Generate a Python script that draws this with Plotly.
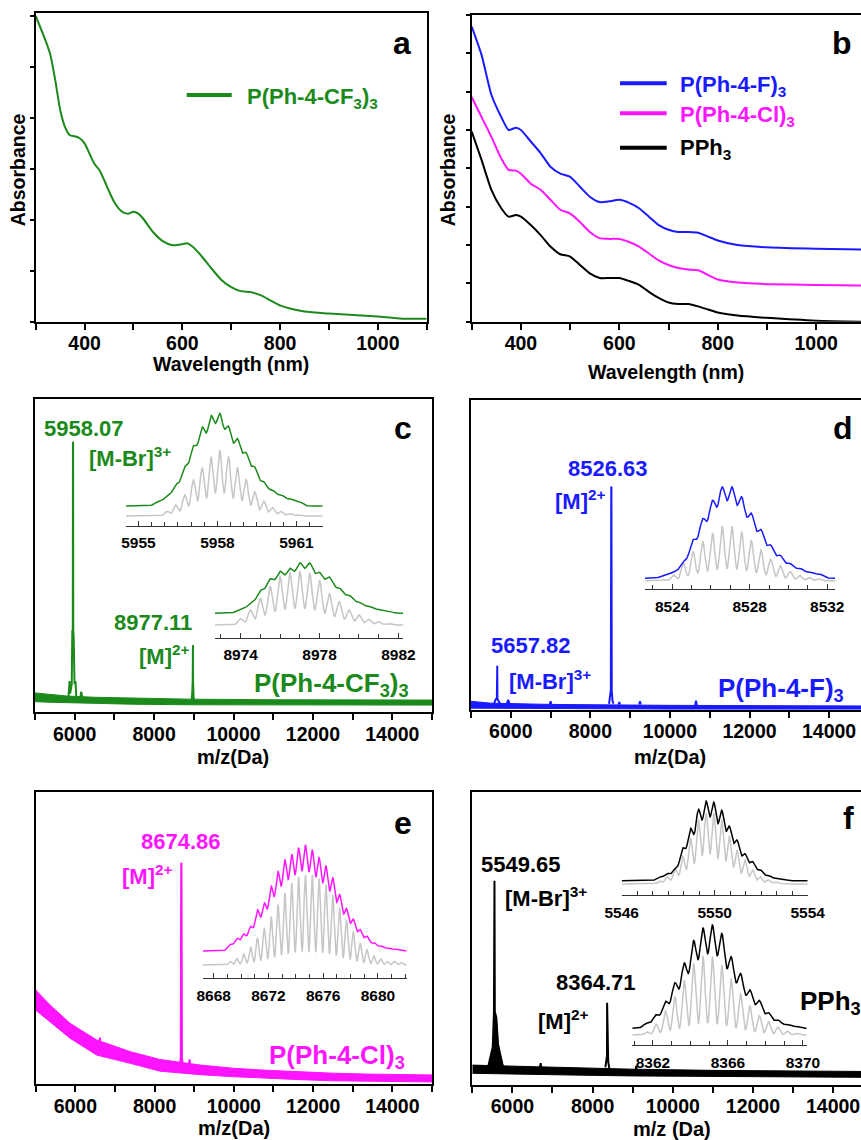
import numpy as np
import plotly.graph_objects as go

W, H = 861, 1140
FONT = "Liberation Sans, Arial, sans-serif"
GREEN = "#1b8a1b"
BLUE = "#1a1aff"
MAGENTA = "#ff14ff"
BLACK = "#000000"
GRAY = "#c6c6c6"

# ---------------- (a) UV-vis, P(Ph-4-CF3)3 ----------------
wl_a = [300, 320, 330, 340, 350, 360, 370, 380, 390, 400, 410, 420, 430, 440, 450, 460, 470, 480,
        490, 500, 510, 520, 540, 560, 580, 600, 610, 620, 640, 660, 680, 700, 720, 740, 760, 780,
        800, 820, 850, 900, 950, 1000, 1050, 1100]
abs_cf3 = [3.0, 2.76, 2.62, 2.37, 2.08, 1.91, 1.83, 1.82, 1.80, 1.75, 1.65, 1.55, 1.49, 1.39, 1.28,
           1.18, 1.11, 1.07, 1.06, 1.08, 1.06, 1.01, 0.88, 0.79, 0.75, 0.76, 0.77, 0.74, 0.64, 0.52,
           0.41, 0.34, 0.30, 0.29, 0.26, 0.21, 0.16, 0.13, 0.10, 0.08, 0.065, 0.05, 0.03, 0.03]

# ---------------- (b) UV-vis, three ligands ----------------
wl_b = [300, 320, 340, 360, 375, 390, 400, 420, 440, 460, 480, 500, 520, 540, 560, 580, 600, 620,
        640, 660, 680, 700, 720, 740, 760, 780, 800, 840, 900, 1000, 1100]
abs_f = [3.85, 3.48, 2.96, 2.67, 2.50, 2.53, 2.50, 2.35, 2.20, 2.02, 1.93, 1.89, 1.76, 1.63, 1.56,
         1.57, 1.59, 1.55, 1.48, 1.37, 1.26, 1.20, 1.17, 1.17, 1.16, 1.11, 1.06, 1.00, 0.97, 0.95, 0.94]
abs_cl = [2.93, 2.67, 2.41, 2.13, 1.98, 1.97, 1.93, 1.80, 1.72, 1.59, 1.46, 1.41, 1.30, 1.17, 1.09,
          1.08, 1.08, 1.04, 0.98, 0.89, 0.80, 0.74, 0.70, 0.68, 0.67, 0.61, 0.55, 0.51, 0.49, 0.48, 0.47]
abs_pph3 = [2.48, 2.11, 1.72, 1.48, 1.37, 1.39, 1.37, 1.26, 1.13, 0.98, 0.88, 0.85, 0.74, 0.63, 0.57,
            0.57, 0.57, 0.53, 0.48, 0.39, 0.31, 0.25, 0.23, 0.23, 0.20, 0.16, 0.12, 0.08, 0.05, 0.013, 0.0]

# ---------------- (c)-(f) ESI-MS, normalised intensity ----------------
c_band_mz = [5000, 5400, 5800, 6500, 7400, 8900, 11000, 15000]
c_band_hi = [0.062, 0.056, 0.052, 0.048, 0.045, 0.042, 0.040, 0.039]
c_band_lo = [0.034, 0.032, 0.031, 0.028, 0.026, 0.024, 0.023, 0.023]
c_peak_mz = [5840, 5855, 5870, 5885, 5900, 5925, 5940, 5952, 5956, 5960, 5964, 5975, 5995, 6020, 6040, 6060, None,
             6140, 6160, 6175, 6195, None,
             8940, 8960, 8972, 8975, 8979, 8982, 8995, 9010]
c_peak_int = [0.04, 0.10, 0.10, 0.06, 0.07, 0.09, 0.26, 0.26, 0.861, 0.861, 0.26, 0.24, 0.09, 0.10, 0.05, 0.04, None,
              0.04, 0.065, 0.06, 0.04, None,
              0.035, 0.06, 0.10, 0.215, 0.215, 0.10, 0.05, 0.035]

d_band_mz = [5000, 5500, 7000, 10000, 15000]
d_band_hi = [0.028, 0.022, 0.018, 0.015, 0.013]
d_band_lo = [0.006, 0.005, 0.004, 0.003, 0.003]
d_peak_mz = [5580, 5620, 5650, 5656, 5660, 5665, 5690, 5730, None, 5900, 5935, 5970, None,
             6980, 7000, 7020, None, 8470, 8500, 8515, 8525, 8529, 8538, 8555, 8580, None,
             8710, 8727, 8745, None, 9230, 9247, 9265, None, 10635, 10655, 10675]
d_peak_int = [0.02, 0.035, 0.035, 0.143, 0.143, 0.035, 0.03, 0.02, None, 0.02, 0.033, 0.02, None,
              0.018, 0.028, 0.018, None, 0.02, 0.065, 0.065, 0.718, 0.718, 0.065, 0.03, 0.02, None,
              0.018, 0.026, 0.018, None, 0.018, 0.028, 0.018, None, 0.015, 0.03, 0.015]

e_band_mz = [5000, 5360, 5865, 6540, 7380, 8135, 9150, 9990, 10830, 11670, 12510, 13350, 15000]
e_band_hi = [0.323, 0.272, 0.209, 0.152, 0.112, 0.085, 0.066, 0.055, 0.048, 0.042, 0.038, 0.035, 0.032]
e_band_lo = [0.254, 0.214, 0.158, 0.100, 0.072, 0.045, 0.033, 0.026, 0.020, 0.016, 0.012, 0.010, 0.008]
e_peak_mz = [6600, 6620, 6640, None, 8630, 8660, 8672, 8678, 8690, 8720, None, 8860, 8882, 8905]
e_peak_int = [0.13, 0.16, 0.13, None, 0.06, 0.09, 0.755, 0.755, 0.09, 0.06, None, 0.06, 0.085, 0.06]

f_band_mz = [5000, 6000, 7500, 9000, 11000, 13000, 15000]
f_band_hi = [0.068, 0.064, 0.058, 0.054, 0.050, 0.047, 0.046]
f_band_lo = [0.040, 0.037, 0.034, 0.031, 0.029, 0.027, 0.026]
# broad unresolved hump under the [M-Br]3+ peak
f_hump_mz = [5420, 5460, 5500, 5530, 5560, 5600, 5640, 5680, 5720, 5770]
f_hump_hi = [0.065, 0.095, 0.115, 0.14, 0.24, 0.23, 0.15, 0.11, 0.09, 0.065]
f_hump_lo = [0.045, 0.045, 0.045, 0.045, 0.045, 0.045, 0.045, 0.045, 0.045, 0.045]
f_peak_mz = [5400, 5440, 5480, 5510, 5540, 5546, 5553, 5562, 5600, 5640, 5680, 5720, 5760, None,
             6690, 6705, 6720, None, 8320, 8345, 8360, 8363, 8366, 8372, 8390, 8420, None, 9070, 9087, 9105]
f_peak_int = [0.065, 0.09, 0.11, 0.13, 0.25, 0.698, 0.698, 0.25, 0.23, 0.14, 0.11, 0.09, 0.065, None,
              0.06, 0.075, 0.06, None, 0.06, 0.08, 0.10, 0.281, 0.281, 0.10, 0.08, 0.055, None, 0.05, 0.065, 0.05]

# ---------------- isotope patterns (insets): peak m/z, simulated and measured heights ----------------
c1_mz = [5955.76, 5956.09, 5956.42, 5956.76, 5957.09, 5957.42, 5957.76, 5958.09, 5958.42, 5958.76,
         5959.09, 5959.42, 5959.76, 5960.09, 5960.42, 5960.76, 5961.09]
c1_sim = [0, 7, 17, 32, 55, 74, 90, 100, 91, 74, 56, 37, 23, 13, 7, 4, 2]
c1_exp = [5, 10, 23, 42, 64, 86, 98, 100, 86, 73, 57, 42, 26, 17, 12, 8, 5]

c2_mz = [8974.0, 8974.5, 8975.0, 8975.5, 8976.0, 8976.5, 8977.0, 8977.5, 8978.0, 8978.5, 8979.0,
         8979.5, 8980.0, 8980.5, 8981.0, 8981.5]
c2_sim = [12, 28, 50, 72, 91, 98, 100, 97, 84, 59, 44, 28, 19, 11, 6, 3]
c2_exp = [8, 18, 45, 68, 83, 88, 100, 100, 80, 72, 50, 36, 22, 14, 8, 4]

d1_mz = [8523.58, 8524.08, 8524.58, 8525.08, 8525.58, 8526.08, 8526.58, 8527.08, 8527.58, 8528.08,
         8528.58, 8529.08, 8529.58, 8530.08, 8530.58, 8531.08, 8531.58]
d1_sim = [2, 10, 32, 54, 72, 88, 100, 100, 91, 74, 57, 40, 28, 17, 10, 6, 3]
d1_exp = [3, 7, 18, 42, 65, 85, 100, 100, 89, 71, 53, 36, 25, 16, 11, 7, 5]

e1_mz = [8669.2, 8669.7, 8670.2, 8670.7, 8671.2, 8671.7, 8672.2, 8672.7, 8673.2, 8673.7, 8674.2,
         8674.7, 8675.2, 8675.7, 8676.2, 8676.7, 8677.2, 8677.7, 8678.2, 8678.7, 8679.2, 8679.7,
         8680.2, 8680.7, 8681.2, 8681.7]
e1_sim = [4, 7, 12, 20, 30, 41, 54, 67, 80, 91, 98, 100, 100, 96, 89, 78, 63, 50, 37, 24, 17, 10, 7, 4, 4, 3]
e1_exp = [6, 12, 16, 23, 39, 45, 61, 75, 86, 91, 97, 100, 95, 88, 80, 69, 53, 40, 30, 20, 14, 8, 5, 3, 2, 1]

f1_mz = [5547.63, 5547.96, 5548.30, 5548.63, 5548.96, 5549.30, 5549.63, 5549.96, 5550.30, 5550.63,
         5550.96, 5551.30, 5551.63, 5551.96, 5552.30, 5552.63, 5552.96]
f1_sim = [4, 10, 22, 39, 65, 91, 100, 100, 91, 67, 48, 34, 20, 10, 6, 3, 1]
f1_exp = [5, 9, 15, 41, 66, 90, 100, 99, 89, 68, 51, 34, 24, 14, 7, 3, 2]

f2_mz = [8361.67, 8362.17, 8362.67, 8363.17, 8363.67, 8364.17, 8364.67, 8365.17, 8365.67, 8366.17,
         8366.67, 8367.17, 8367.67, 8368.17, 8368.67, 8369.17, 8369.67]
f2_sim = [4, 14, 31, 49, 70, 91, 100, 100, 89, 72, 53, 37, 25, 17, 10, 5, 2]
f2_exp = [5, 13, 26, 44, 63, 85, 97, 100, 92, 69, 53, 37, 27, 15, 8, 4, 2]


# ---------------- helpers ----------------
def xd(p0, p1):
    return [max(p0 / W, 0), min(p1 / W, 1)]


def yd(ptop, pbot):
    return [1 - pbot / H, 1 - ptop / H]


def sfx(n):
    return "" if n == 1 else str(n)


fig = go.Figure()


def add(tr, n):
    tr.update(xaxis="x" + sfx(n), yaxis="y" + sfx(n), showlegend=False, hoverinfo="skip")
    fig.add_trace(tr)


def tickfont(size):
    return dict(family=FONT, size=size, color="black", weight="bold")


axes = {}


def main_axes(n, xpx, ypx, xr, yr, tick0, dtick, mtick0, mdtick, ytickvals=None, ymirror=True):
    s = sfx(n)
    axes["xaxis" + s] = dict(domain=xd(*xpx), range=xr, anchor="y" + s, showline=True, linewidth=2,
                             linecolor="black", mirror=True, ticks="outside", ticklen=6, tickwidth=1.8,
                             tickcolor="black", tickmode="linear", tick0=tick0, dtick=dtick,
                             tickformat="d", automargin=False, ticklabelstandoff=-3,
                             tickfont=tickfont(19.5), showgrid=False, zeroline=False,
                             minor=dict(tickmode="linear", tick0=mtick0, dtick=mdtick, ticks="outside",
                                        ticklen=6, tickwidth=1.8, tickcolor="black", showgrid=False))
    ya = dict(domain=yd(*ypx), range=yr, anchor="x" + s, showline=True, linewidth=2, linecolor="black",
              mirror=ymirror, showticklabels=False, showgrid=False, zeroline=False, automargin=False)
    if ytickvals is not None:
        ya.update(tickmode="array", tickvals=ytickvals, ticks="outside", ticklen=4, tickwidth=1.5,
                  tickcolor="black")
    else:
        ya.update(ticks="")
    axes["yaxis" + s] = ya


def inset_axes(n, xpx, ybot, ytop, xr, tick0, dtick, mdtick):
    s = sfx(n)
    axes["xaxis" + s] = dict(domain=xd(*xpx), range=xr, anchor="y" + s, showline=True, linewidth=1.2,
                             linecolor="#333333", ticks="inside", ticklen=5, tickwidth=1.2,
                             tickcolor="#333333", tickmode="linear", tick0=tick0, dtick=dtick,
                             tickformat="d", automargin=False,
                             tickfont=tickfont(15.5), showgrid=False, zeroline=False,
                             ticklabelstandoff=3,
                             minor=dict(tickmode="linear", tick0=tick0, dtick=mdtick, ticks="inside",
                                        ticklen=4, tickwidth=1.2, tickcolor="#333333", showgrid=False))
    axes["yaxis" + s] = dict(domain=yd(ytop, ybot), range=[0, 1], anchor="x" + s, visible=False,
                             automargin=False)


def profile(xr, centers, heights, sigma):
    # isotope pattern drawn as the sum of broadened peaks of the read heights
    xg = np.linspace(xr[0], xr[1], 1600)
    c = np.asarray(centers)[None, :]
    h = np.asarray(heights, dtype=float)[None, :]
    y = (h * np.exp(-0.5 * ((xg[:, None] - c) / sigma) ** 2)).sum(axis=1)
    return xg, y / y.max()


def add_inset(n, xr, ybot, ytop, mz, sim, exp, spacing, sim_px, exp_px, sim_sig, exp_sig, color):
    hgt = ybot - ytop
    for heights, (base, peak), sig, col, wdt in ((sim, sim_px, sim_sig, GRAY, 1.5),
                                                 (exp, exp_px, exp_sig, color, 1.5)):
        xg, prof = profile(xr, mz, heights, sig * spacing)
        yv = (ybot - base) / hgt + prof * (base - peak) / hgt
        add(go.Scatter(x=xg, y=yv, mode="lines", line=dict(color=col, width=wdt)), n)


def add_band(n, band_mz, hi, lo, color):
    add(go.Scatter(x=list(band_mz) + list(band_mz)[::-1], y=list(hi) + list(lo)[::-1], mode="lines",
                   fill="toself", fillcolor=color, line=dict(color=color, width=1)), n)


def add_spectrum(n, band_mz, hi, lo, pk_mz, pk_int, color):
    add_band(n, band_mz, hi, lo, color)
    add(go.Scatter(x=pk_mz, y=pk_int, mode="lines", connectgaps=False,
                   line=dict(color=color, width=2)), n)


# ---------------- panels a, b ----------------
main_axes(1, (35.7, 426.7), (13.3, 321.7), [300, 1100], [0, 3.026], 400, 200, 300, 100,
          ytickvals=[0, 0.5, 1, 1.5, 2, 2.5, 3])
add(go.Scatter(x=wl_a, y=abs_cf3, mode="lines", line=dict(color=GREEN, width=2, shape="spline", smoothing=0.6)), 1)

main_axes(2, (471.7, 861), (15, 321.7), [300, 1091], [0, 4.0], 400, 200, 300, 100,
          ytickvals=[0, 0.5, 1, 1.5, 2, 2.5, 3, 3.5, 4], ymirror=False)
for yv, col in ((abs_pph3, BLACK), (abs_cl, MAGENTA), (abs_f, BLUE)):
    add(go.Scatter(x=wl_b, y=yv, mode="lines", line=dict(color=col, width=2, shape="spline", smoothing=0.6)), 2)

# ---------------- panels c-f ----------------
main_axes(3, (35, 432), (399.3, 712.3), [5000, 15000], [0, 1], 6000, 2000, 5000, 1000)
add_spectrum(3, c_band_mz, c_band_hi, c_band_lo, c_peak_mz, c_peak_int, GREEN)
main_axes(4, (471, 861), (400, 710), [5000, 14802], [0, 1], 6000, 2000, 5000, 1000, ymirror=False)
add_spectrum(4, d_band_mz, d_band_hi, d_band_lo, d_peak_mz, d_peak_int, BLUE)
main_axes(5, (35.7, 432), (792.3, 1084.3), [5000, 15000], [0, 1], 6000, 2000, 5000, 1000)
add_spectrum(5, e_band_mz, e_band_hi, e_band_lo, e_peak_mz, e_peak_int, MAGENTA)
main_axes(6, (472.3, 861), (792.3, 1085), [5000, 14696], [0, 1], 6000, 2000, 5000, 1000, ymirror=False)
add_band(6, f_hump_mz, f_hump_hi, f_hump_lo, BLACK)
add_spectrum(6, f_band_mz, f_band_hi, f_band_lo, f_peak_mz, f_peak_int, BLACK)

# ---------------- insets ----------------
inset_axes(7, (126, 322.7), 525.7, 405, [5954.53, 5962.0], 5955, 3, 0.5)
add_inset(7, [5954.53, 5962.0], 525.7, 405, c1_mz, c1_sim, c1_exp, 1 / 3, (516, 450.7), (506, 413.3), 0.27, 0.42, GREEN)
inset_axes(8, (215, 403.3), 637.7, 555, [8972.7, 8982.25], 8974, 4, 1)
add_inset(8, [8972.7, 8982.25], 637.7, 555, c2_mz, c2_sim, c2_exp, 0.5, (625, 571.7), (613.3, 562.7), 0.26, 0.42, GREEN)
inset_axes(9, (645, 835), 589, 478, [8522.6, 8532.4], 8524, 4, 1)
add_inset(9, [8522.6, 8532.4], 589, 478, d1_mz, d1_sim, d1_exp, 0.5, (580.7, 526.7), (578.3, 486.7), 0.24, 0.40, BLUE)
inset_axes(10, (202.7, 406.7), 978.3, 838, [8667.2, 8682.1], 8668, 4, 1)
add_inset(10, [8667.2, 8682.1], 978.3, 838, e1_mz, e1_sim, e1_exp, 0.5, (965, 875), (951, 845), 0.22, 0.37, MAGENTA)
inset_axes(11, (621.7, 807.7), 895, 795, [5546, 5554], 5546, 4, 2 / 3)
add_inset(11, [5546, 5554], 895, 795, f1_mz, f1_sim, f1_exp, 1 / 3, (884, 813.3), (880.7, 801), 0.28, 0.38, BLACK)
inset_axes(12, (632.3, 806.7), 1045, 920, [8360.9, 8370.2], 8362, 4, 1)
add_inset(12, [8360.9, 8370.2], 1045, 920, f2_mz, f2_sim, f2_exp, 0.5, (1035, 956.7), (1028.3, 925), 0.22, 0.36, BLACK)

# ---------------- text ----------------
annots = []


def ann(text, x, y, size, color="black", xanchor="left", angle=0):
    annots.append(dict(text=text, x=x / W, y=1 - y / H, xref="paper", yref="paper", showarrow=False,
                       xanchor=xanchor, yanchor="middle", textangle=angle,
                       font=dict(family=FONT, size=size, color=color, weight="bold")))


# panel a
ann("a", 401.7, 43.3, 32, xanchor="center")
ann("P(Ph-4-CF<sub>3</sub>)<sub>3</sub>", 245, 98, 22, GREEN)
ann("Absorbance", 18.3, 170, 19.5, xanchor="center", angle=-90)
ann("Wavelength (nm)", 231, 364, 19.5, xanchor="center")
# panel b
ann("b", 841.7, 43.3, 32, xanchor="center")
ann("P(Ph-4-F)<sub>3</sub>", 678.3, 86, 22, BLUE)
ann("P(Ph-4-Cl)<sub>3</sub>", 678.3, 116, 22, MAGENTA)
ann("PPh<sub>3</sub>", 678.3, 149, 22, BLACK)
ann("Absorbance", 448.3, 170, 19.5, xanchor="center", angle=-90)
ann("Wavelength (nm)", 666.4, 372, 19.5, xanchor="center")
# panel c
ann("c", 403.3, 428.3, 32, xanchor="center")
ann("5958.07", 84.2, 428.3, 22, GREEN, "center")
ann("[M-Br]<sup>3+</sup>", 86.7, 456.7, 22, GREEN)
ann("8977.11", 153, 622.7, 22, GREEN, "center")
ann("[M]<sup>2+</sup>", 136.7, 655, 22, GREEN)
ann("P(Ph-4-CF<sub>3</sub>)<sub>3</sub>", 251.7, 684, 26, GREEN)
ann("m/z(Da)", 233.3, 757, 20, xanchor="center")
# panel d
ann("d", 843.3, 428.3, 32, xanchor="center")
ann("8526.63", 607.5, 468.3, 22, BLUE, "center")
ann("[M]<sup>2+</sup>", 552.7, 500, 22, BLUE)
ann("5657.82", 530.8, 645, 22, BLUE, "center")
ann("[M-Br]<sup>3+</sup>", 506.7, 680, 22, BLUE)
ann("P(Ph-4-F)<sub>3</sub>", 716, 689, 26, BLUE)
ann("m/z(Da)", 670, 757, 20, xanchor="center")
# panel e
ann("e", 403.3, 823.3, 32, xanchor="center")
ann("8674.86", 181.3, 841.7, 22, MAGENTA, "center")
ann("[M]<sup>2+</sup>", 120, 875, 22, MAGENTA)
ann("P(Ph-4-Cl)<sub>3</sub>", 266.7, 1056, 26, MAGENTA)
ann("m/z(Da)", 234.3, 1128, 20, xanchor="center")
# panel f
ann("f", 848.3, 818.3, 32, xanchor="center")
ann("5549.65", 521.3, 864.3, 22, BLACK, "center")
ann("[M-Br]<sup>3+</sup>", 502.7, 896.7, 22, BLACK)
ann("8364.71", 595.8, 982.7, 22, BLACK, "center")
ann("[M]<sup>2+</sup>", 536, 1020, 22, BLACK)
ann("PPh<sub>3</sub>", 798.3, 1002, 26, BLACK)
ann("m/z (Da)", 672.3, 1129, 20, xanchor="center")

shapes = []
for x0, x1, y, col in ((186.7, 231.7, 95, GREEN), (620, 666.7, 83.3, BLUE),
                       (620, 666.7, 113.3, MAGENTA), (620, 666.7, 147.7, BLACK)):
    shapes.append(dict(type="line", xref="paper", yref="paper", x0=x0 / W, x1=x1 / W,
                       y0=1 - y / H, y1=1 - y / H, line=dict(color=col, width=4)))

fig.update_layout(width=W, height=H, autosize=False, margin=dict(l=0, r=0, t=0, b=0, pad=0, autoexpand=False),
                  paper_bgcolor="white", plot_bgcolor="rgba(0,0,0,0)", showlegend=False,
                  font=dict(family=FONT, color="black"), annotations=annots, shapes=shapes, **axes)

fig.write_html("out.html", config={"displayModeBar": False},
               post_script="document.body.style.margin='0px';")
